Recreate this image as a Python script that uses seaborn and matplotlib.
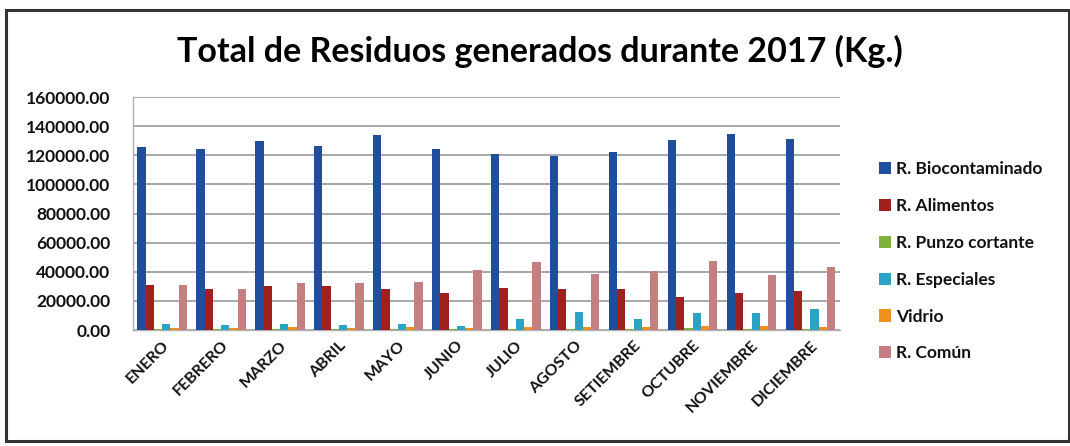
import matplotlib
matplotlib.use("Agg")
import matplotlib.pyplot as plt
import seaborn as sns
import pandas as pd
from matplotlib.patches import Rectangle
from matplotlib.ticker import FuncFormatter, MultipleLocator

meses = ["ENERO", "FEBRERO", "MARZO", "ABRIL", "MAYO", "JUNIO", "JULIO",
         "AGOSTO", "SETIEMBRE", "OCTUBRE", "NOVIEMBRE", "DICIEMBRE"]
series = ["R. Biocontaminado", "R. Alimentos", "R. Punzo cortante",
          "R. Especiales", "Vidrio", "R. Común"]

biocontaminado = [126000, 124400, 130100, 126700, 133600, 124400,
                  121000, 119200, 122100, 130600, 134700, 131300]
alimentos = [30800, 27900, 30100, 30100, 28100, 25100,
             29200, 27900, 28500, 22800, 25100, 26900]
punzo_cortante = [900, 900, 1000, 900, 1000, 900,
                  1000, 1000, 1000, 1100, 1000, 1000]
especiales = [3900, 3400, 4100, 3400, 4100, 2700,
              7300, 12600, 7300, 11900, 11400, 14200]
vidrio = [1500, 1500, 1800, 1600, 1800, 1700,
          2000, 2000, 2200, 3000, 2800, 2200]
comun = [30800, 28500, 32000, 32400, 33100, 41100,
         46800, 38800, 40600, 47300, 37700, 43400]

colores = ["#1f4f9c", "#a01f1f", "#7fb23a", "#2aa3c4", "#f0901e", "#c47f80"]

valores = [biocontaminado, alimentos, punzo_cortante, especiales, vidrio, comun]
rows = []
for s, vals in zip(series, valores):
    for m, v in zip(meses, vals):
        rows.append({"mes": m, "tipo": s, "kg": v})
df = pd.DataFrame(rows)

sns.set_theme(style="white")
plt.rcParams["font.family"] = ["Lato", "DejaVu Sans"]

fig = plt.figure(figsize=(10.7, 4.46), dpi=100)
ax = fig.add_axes([0.124, 0.26, 0.661, 0.5225])

sns.barplot(data=df, x="mes", y="kg", hue="tipo", order=meses,
            hue_order=series, palette=colores, width=0.84,
            saturation=1, ax=ax, errorbar=None, edgecolor="none",
            zorder=3)

ax.set_ylim(0, 160000)
ax.yaxis.set_major_locator(MultipleLocator(20000))
ax.yaxis.set_major_formatter(FuncFormatter(lambda v, p: f"{v:.2f}"))
ax.grid(axis="y", color="#a8a8a8", linewidth=1.4, zorder=0)
ax.set_axisbelow(True)
ax.set_xlim(-0.5, 11.5)
ax.set_xlabel("")
ax.set_ylabel("")
for sp in ["top", "right"]:
    ax.spines[sp].set_visible(False)
for sp in ["left", "bottom"]:
    ax.spines[sp].set_color("#b0b0b0")
    ax.spines[sp].set_linewidth(1.0)

ax.tick_params(axis="y", labelsize=12.5, colors="#111111", length=3,
               color="#b0b0b0", pad=13)
ax.tick_params(axis="x", labelsize=11.5, colors="#111111", length=0, pad=6)
for lab in ax.get_yticklabels():
    lab.set_fontweight("bold")
plt.setp(ax.get_xticklabels(), rotation=45, ha="right",
         rotation_mode="anchor", fontweight="bold")

leg = ax.legend(loc="center left", bbox_to_anchor=(1.045, 0.295),
                frameon=False, fontsize=12.5, labelspacing=1.2,
                handlelength=0.7, handleheight=0.7, handletextpad=0.3,
                borderaxespad=0)
for t in leg.get_texts():
    t.set_fontweight("bold")
    t.set_color("#111111")

fig.text(0.505, 0.885, "Total de Residuos generados durante 2017 (Kg.)",
         ha="center", va="center", fontsize=24.5, fontweight="bold",
         color="#000000")

fig.patches.append(Rectangle((0.006, 0.012), 0.993, 0.965,
                             transform=fig.transFigure, fill=False,
                             edgecolor="#333333", linewidth=2.2))

fig.savefig("out.png", dpi=100)
